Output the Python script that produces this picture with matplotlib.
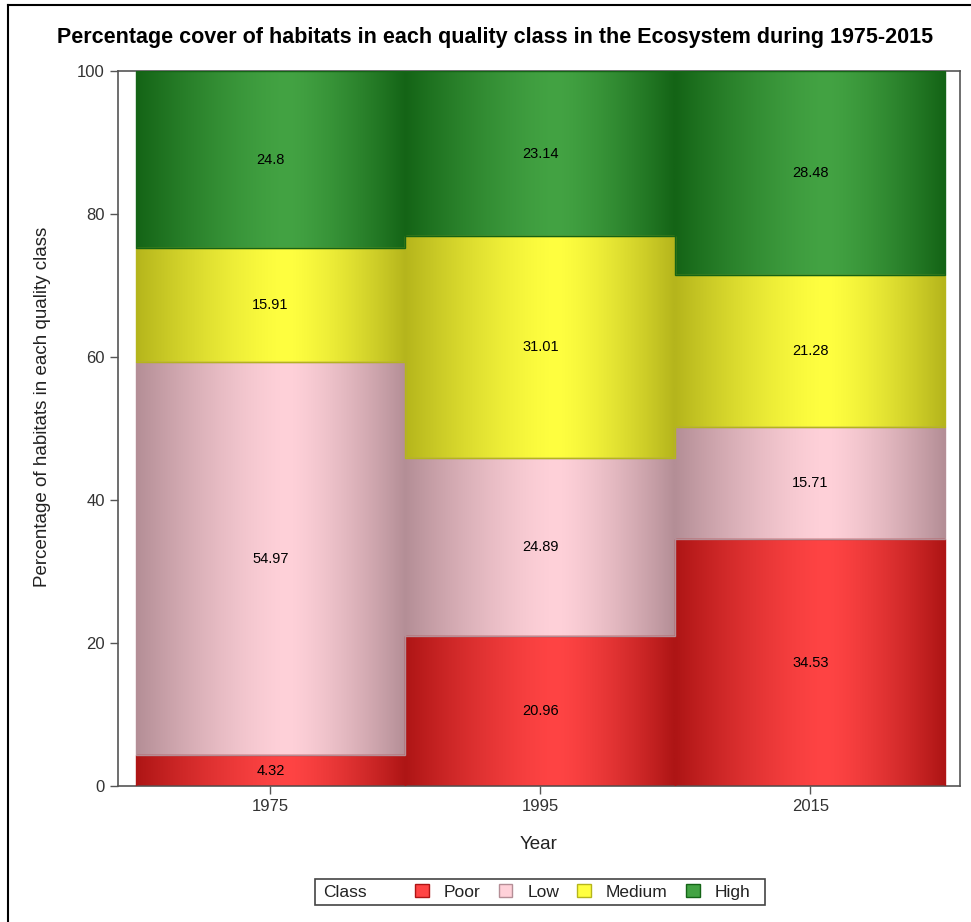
import numpy as np
import matplotlib
matplotlib.use('Agg')
import matplotlib.pyplot as plt
from matplotlib.patches import Patch, Rectangle
from matplotlib.lines import Line2D
from matplotlib.colors import to_rgb

plt.rcParams['font.family'] = ['Liberation Sans', 'DejaVu Sans']

years = ['1975', '1995', '2015']
classes = ['Poor', 'Low', 'Medium', 'High']
poor = [4.32, 20.96, 34.53]
low = [54.97, 24.89, 15.71]
medium = [15.91, 31.01, 21.28]
high = [24.8, 23.14, 28.48]

# center (light) and edge (dark) colour of each class
centre_cols = ['#FF4444', '#FFD1D9', '#FFFF40', '#43A343']
edge_cols = ['#AE1515', '#B48E96', '#B5B51C', '#146416']


def gradient(c_light, c_dark, n=256, peak=0.56):
    t = np.linspace(0, 1, n)
    s = np.where(t < peak, t / peak, (1 - t) / (1 - peak))
    g = 1 - (1 - s) ** 1.4
    a = np.array(to_rgb(c_dark))
    b = np.array(to_rgb(c_light))
    img = a[None, :] + (b - a)[None, :] * g[:, None]
    return img[None, :, :]


fig = plt.figure(figsize=(9.71, 9.22), dpi=100)
ax = fig.add_axes([118 / 971, 1 - 786 / 922, (960 - 118) / 971, (786 - 71) / 922])

x = np.arange(len(years))
series = [poor, low, medium, high]
bottom = np.zeros(len(years))
for i, vals in enumerate(series):
    bars = ax.bar(x, vals, width=1.0, bottom=bottom, facecolor='none',
                  edgecolor=edge_cols[i], linewidth=1.0, zorder=3)
    img = gradient(centre_cols[i], edge_cols[i])
    for b in bars:
        bx, by = b.get_x(), b.get_y()
        im = ax.imshow(img, extent=[bx, bx + b.get_width(), by, by + b.get_height()],
                       aspect='auto', zorder=2, interpolation='bilinear')
        im.set_clip_path(b)
    for xi, v, bt in zip(x, vals, bottom):
        ax.text(xi, bt + v / 2, f'{v:g}', ha='center', va='center', fontsize=10.5,
                color='black', zorder=4)
    bottom += np.array(vals)

ax.set_xlim(-0.565, 2.555)
ax.set_ylim(0, 100)
ax.set_xticks(x)
ax.set_xticklabels(years)
ax.set_yticks([0, 20, 40, 60, 80, 100])
ax.tick_params(axis='both', labelsize=12, labelcolor='#333333', color='#555555',
               length=6, width=1)
for s in ax.spines.values():
    s.set_color('#555555')
    s.set_linewidth(1.2)

ax.set_xlabel('Year', fontsize=13.5, color='#222222', labelpad=16)
ax.set_ylabel('Percentage of habitats in each quality class', fontsize=13.5,
              color='#222222')
ax.yaxis.set_label_coords(-0.08, 0.53)
fig.text(495 / 971, 1 - 38 / 922,
         'Percentage cover of habitats in each quality class in the Ecosystem during 1975-2015',
         ha='center', va='center', fontsize=15.5, fontweight='bold')

# legend: frame drawn by hand so that the "Class" title sits on the left
fig.add_artist(Rectangle((315 / 971, 1 - 905 / 922), 450 / 971, 26 / 922,
                         transform=fig.transFigure, facecolor='white',
                         edgecolor='#444444', linewidth=1.2))
fig.text(323 / 971, 1 - 892 / 922, 'Class', ha='left', va='center',
         fontsize=12.5, color='#222222')
handles = [Patch(facecolor=centre_cols[i], edgecolor=edge_cols[i], linewidth=1)
           for i in range(len(classes))]
leg = fig.legend(handles, classes, loc='center left',
                 bbox_to_anchor=(408 / 971, 1 - 892 / 922),
                 ncol=4, fontsize=12.5, frameon=False, handlelength=0.8,
                 handleheight=0.8, handletextpad=0.85, columnspacing=1.05,
                 borderaxespad=0)
for t in leg.get_texts():
    t.set_color('#222222')

# outer border (top and left only, as in the reference)
fig.add_artist(Line2D([8 / 971, 1], [1 - 5 / 922, 1 - 5 / 922], color='black', lw=1.5,
                      transform=fig.transFigure))
fig.add_artist(Line2D([8 / 971, 8 / 971], [0, 1 - 5 / 922], color='black', lw=1.5,
                      transform=fig.transFigure))

fig.savefig('out.png', dpi=100)
